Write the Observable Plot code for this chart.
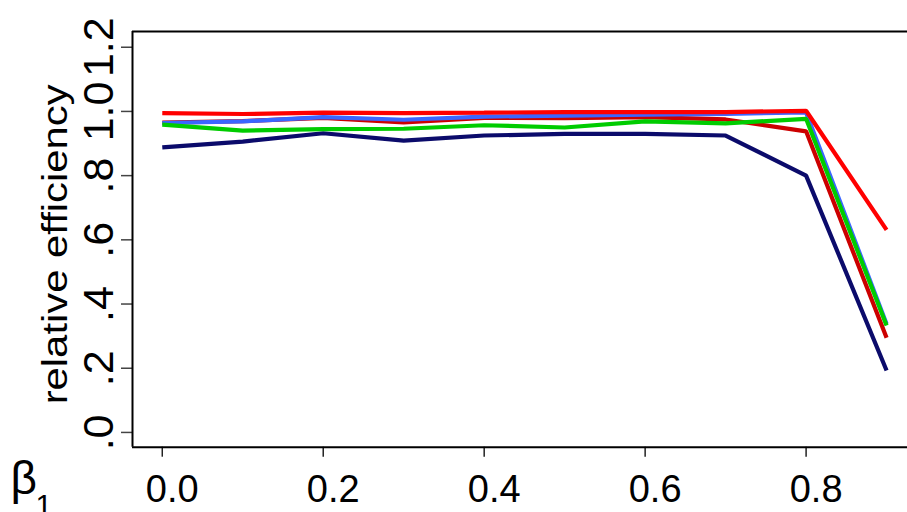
<!DOCTYPE html>
<html><head><meta charset="utf-8">
<script src="https://cdn.jsdelivr.net/npm/d3@7"></script>
<script src="https://cdn.jsdelivr.net/npm/@observablehq/plot@0.6"></script>
<style>html,body{margin:0;padding:0;background:#fff;overflow:hidden}</style>
</head><body><div id="chart"></div>
<script>
// ---- data ----
const beta = [0, 0.1, 0.2, 0.3, 0.4, 0.5, 0.6, 0.7, 0.8, 0.9];
const navyValues    = [0.888, 0.906, 0.932, 0.909, 0.925, 0.930, 0.930, 0.925, 0.800, 0.193];
const darkredValues = [0.965, 0.970, 0.980, 0.966, 0.980, 0.979, 0.982, 0.975, 0.938, 0.295];
const blueValues    = [0.964, 0.969, 0.982, 0.974, 0.984, 0.987, 0.990, 0.992, 0.997, 0.338];
const greenValues   = [0.959, 0.940, 0.945, 0.946, 0.957, 0.950, 0.969, 0.963, 0.977, 0.333];
const redValues     = [0.995, 0.992, 0.996, 0.995, 0.996, 0.998, 0.998, 0.998, 1.002, 0.631];
const seriesNames  = ["navy", "darkred", "blue", "green", "red"];
const seriesColors = ["#0b0b6b", "#cc0000", "#3b66ff", "#00cc00", "#ff0000"];
const seriesValues = [navyValues, darkredValues, blueValues, greenValues, redValues];

const xTicks = [0, 0.2, 0.4, 0.6, 0.8];
const xTickLabels = ["0.0", "0.2", "0.4", "0.6", "0.8"];
const yTicks = [0, 0.2, 0.4, 0.6, 0.8, 1.0, 1.2];
const yTickLabels = [".0", ".2", ".4", ".6", ".8", "1.0", "1.2"];
const yTitle = "relative efficiency";
const xTitle = "β";
const xTitleSub = "1";

// ---- table ----
const rows = seriesNames.flatMap((name, s) =>
  beta.map((b, i) => ({series: name, color: seriesColors[s], beta: b, value: seriesValues[s][i]})));

const xDomain = [-0.037, 0.926];
const yDomain = [-0.046, 1.249];
const font = "'Liberation Sans', Arial, Helvetica, sans-serif";

const chart = Plot.plot({
  width: 907,
  height: 512,
  marginLeft: 132,
  marginRight: 0,
  marginTop: 31,
  marginBottom: 65.3,
  x: {domain: xDomain, label: null},
  y: {domain: yDomain, label: null},
  style: {fontFamily: font, color: "#000", background: "#fff", overflow: "visible"},
  marks: [
    Plot.axisX(xTicks, {tickSize: 10, tickFormat: () => "", stroke: "#222", strokeWidth: 1.5, label: null}),
    Plot.axisX(xTicks, {tickSize: 0, tickPadding: 28, dx: 10, fontSize: 38, label: null,
      tickFormat: d => xTickLabels[xTicks.indexOf(d)]}),
    Plot.axisY(yTicks, {tickSize: 11, tickFormat: () => "", stroke: "#444", strokeWidth: 1.5, label: null}),
    Plot.axisY(yTicks, {tickSize: 0, tickPadding: 19.5, tickRotate: -90, fontSize: 43, label: null,
      tickFormat: d => yTickLabels[yTicks.indexOf(d)]}),
    Plot.ruleY([yDomain[1]], {stroke: "#000", strokeWidth: 2}),
    Plot.ruleY([yDomain[0]], {stroke: "#000", strokeWidth: 2}),
    Plot.ruleX([xDomain[0]], {stroke: "#000", strokeWidth: 2}),
    ...seriesNames.map((name, s) =>
      Plot.line(rows.filter(r => r.series === name), {
        x: "beta", y: "value", stroke: seriesColors[s], strokeWidth: 4.2,
        strokeLinejoin: "miter", strokeLinecap: "butt"
      })),
    Plot.text([yTitle], {text: d => d, frameAnchor: "left", rotate: -90, textAnchor: "middle",
      lineAnchor: "bottom", dx: -66, dy: 5, fontSize: 35}),
    Plot.text([xTitle], {text: d => d, frameAnchor: "bottom-left", textAnchor: "start",
      lineAnchor: "bottom", dx: -122, dy: 47, fontSize: 46}),
    Plot.text([xTitleSub], {text: d => d, frameAnchor: "bottom-left", textAnchor: "start",
      lineAnchor: "bottom", dx: -97, dy: 68, fontSize: 30})
  ]
});

d3.select(chart).selectAll("text")
  .filter(function() { return this.textContent === yTitle; })
  .attr("textLength", 320)
  .attr("lengthAdjust", "spacingAndGlyphs");

document.getElementById("chart").appendChild(chart);
</script>
</body></html>
